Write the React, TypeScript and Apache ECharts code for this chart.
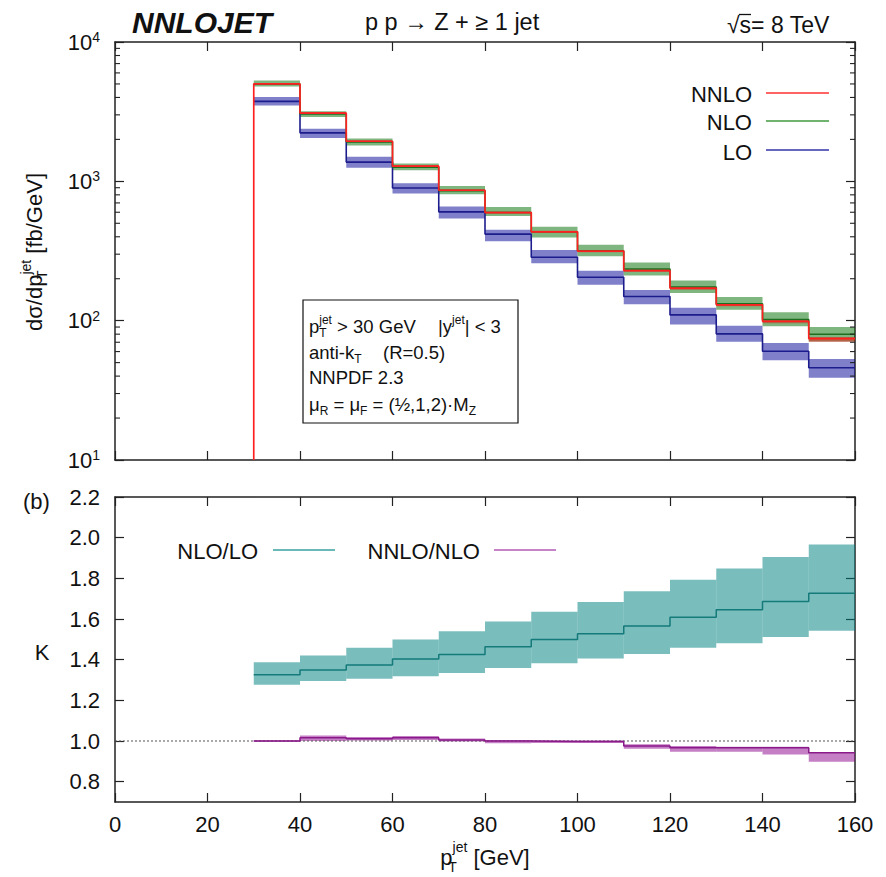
import React, { useEffect, useRef } from 'react';
import * as echarts from 'echarts';

// ---------- data ----------
const binEdges = [30, 40, 50, 60, 70, 80, 90, 100, 110, 120, 130, 140, 150, 160];

const nnlo = [5000, 3090, 1940, 1285, 863, 597, 434, 316, 229, 171, 130, 99, 74.3];
const nnloLo = [4920, 3040, 1905, 1262, 848, 587, 427, 310, 224, 167, 127, 96, 70.5];
const nnloHi = [5080, 3140, 1975, 1308, 878, 607, 441, 322, 234, 175, 133, 101, 76.5];

const nlo = [4990, 3040, 1920, 1265, 858, 597, 435, 317, 235, 174, 132, 102, 79.8];
const nloLo = [4800, 2900, 1810, 1200, 807, 565, 396, 290, 211, 158, 120, 91, 71];
const nloHi = [5300, 3180, 2030, 1345, 925, 655, 472, 351, 262, 194, 148, 115, 90];

const lo = [3750, 2228, 1374, 896, 604, 418, 285, 205, 149, 110, 80.4, 60.4, 45.9];
const loLo = [3508, 2050, 1250, 817, 541, 371, 258, 181, 131, 94, 70.5, 52, 39];
const loHi = [4027, 2380, 1500, 968, 659, 449, 321, 228, 166, 124, 92, 69, 53];

const kNloLo = [1.326, 1.349, 1.374, 1.403, 1.426, 1.463, 1.499, 1.527, 1.566, 1.609, 1.645, 1.686, 1.727];
const kNloLoLow = [1.277, 1.295, 1.306, 1.318, 1.334, 1.359, 1.382, 1.406, 1.428, 1.458, 1.481, 1.512, 1.542];
const kNloLoHigh = [1.387, 1.421, 1.458, 1.499, 1.54, 1.588, 1.636, 1.683, 1.736, 1.793, 1.848, 1.905, 1.966];

const kNnloNlo = [1.0, 1.016, 1.011, 1.016, 1.005, 1.0, 0.997, 0.997, 0.975, 0.967, 0.967, 0.967, 0.942];
const kNnloNloLow = [0.996, 1.0, 1.003, 1.005, 0.998, 0.989, 0.99, 0.99, 0.962, 0.947, 0.947, 0.934, 0.898];
const kNnloNloHigh = [1.004, 1.027, 1.02, 1.025, 1.012, 1.005, 1.003, 1.003, 0.984, 0.975, 0.972, 0.972, 0.946];

const xTicks = [0, 20, 40, 60, 80, 100, 120, 140, 160];
const kTicks = [0.8, 1.0, 1.2, 1.4, 1.6, 1.8, 2.0, 2.2];
const minorMultipliers = [2, 3, 4, 5, 6, 7, 8, 9];
const decades = [10, 100, 1000];
const kReference = 1.0;

// ---------- helpers ----------
const FONT = '"Liberation Sans", Arial, Helvetica, sans-serif';
const INK = '#111';

function steps(vals: number[], start?: number) {
  const pts: number[][] = [];
  if (start != null) pts.push([binEdges[0], start]);
  vals.forEach((v, i) => {
    pts.push([binEdges[i], v]);
    pts.push([binEdges[i + 1], v]);
  });
  return pts;
}

function bandData(low: number[], high: number[]) {
  return low.map((l, i) => [binEdges[i], binEdges[i + 1], l, high[i]]);
}

function bandSeries(name: string, low: number[], high: number[], color: string, xi: number, yi: number) {
  return {
    name,
    type: 'custom',
    xAxisIndex: xi,
    yAxisIndex: yi,
    data: bandData(low, high),
    encode: { x: [0, 1], y: [2, 3] },
    renderItem: (params: any, api: any) => {
      const p0 = api.coord([api.value(0), api.value(3)]);
      const p1 = api.coord([api.value(1), api.value(2)]);
      return {
        type: 'rect',
        shape: { x: p0[0], y: p0[1], width: p1[0] - p0[0], height: p1[1] - p0[1] },
        style: { fill: color },
      };
    },
    z: 2,
  };
}

function stepSeries(name: string, data: number[][], color: string, width: number, xi: number, yi: number, z = 3) {
  return {
    name,
    type: 'line',
    xAxisIndex: xi,
    yAxisIndex: yi,
    data,
    showSymbol: false,
    symbol: 'none',
    lineStyle: { color, width },
    z,
  };
}

const axisLine = { show: true, onZero: false, lineStyle: { color: '#222', width: 1.5 } };
const tick = { show: true, inside: true, length: 9, lineStyle: { color: '#222', width: 1.2 } };

const rich22 = {
  sub: { fontSize: 14, lineHeight: 14, verticalAlign: 'bottom', fontFamily: FONT, fill: INK, width: 0 },
  sup: { fontSize: 14, lineHeight: 14, verticalAlign: 'top', fontFamily: FONT, fill: INK },
  subn: { fontSize: 14, lineHeight: 14, verticalAlign: 'bottom', fontFamily: FONT, fill: INK },
};
const rich18 = {
  sub: { fontSize: 12, lineHeight: 12, verticalAlign: 'bottom', fontFamily: FONT, fill: INK, width: 0 },
  sup: { fontSize: 12, lineHeight: 12, verticalAlign: 'top', fontFamily: FONT, fill: INK },
  subn: { fontSize: 12, lineHeight: 12, verticalAlign: 'bottom', fontFamily: FONT, fill: INK },
};

function txt(x: number, y: number, text: string, extra: any = {}, rot = 0) {
  return {
    type: 'text',
    x,
    y,
    rotation: rot,
    z: 100,
    style: {
      text,
      fill: INK,
      fontSize: 22,
      fontFamily: FONT,
      align: 'left',
      verticalAlign: 'middle',
      lineHeight: 30,
      rich: rich22,
      ...extra,
    },
  };
}

function small(x: number, y: number, text: string) {
  return txt(x, y, text, { fontSize: 18.5, lineHeight: 25, rich: rich18 });
}

function legendLine(x1: number, x2: number, y: number, color: string, w = 1.6) {
  return {
    type: 'line',
    z: 100,
    shape: { x1, y1: y, x2, y2: y },
    style: { stroke: color, lineWidth: w },
  };
}

function buildOption() {
  const minorData: number[][] = [];
  decades.forEach((d) => minorMultipliers.forEach((m) => minorData.push([0, m * d])));

  const minorTicks = {
    type: 'custom',
    xAxisIndex: 0,
    yAxisIndex: 0,
    data: minorData,
    encode: { x: 0, y: 1 },
    silent: true,
    z: 5,
    renderItem: (params: any, api: any) => {
      const y = api.coord([0, api.value(1)])[1];
      const cs = params.coordSys;
      return {
        type: 'group',
        children: [
          { type: 'line', shape: { x1: cs.x, y1: y, x2: cs.x + 5, y2: y }, style: { stroke: '#222', lineWidth: 1.1 } },
          {
            type: 'line',
            shape: { x1: cs.x + cs.width, y1: y, x2: cs.x + cs.width - 5, y2: y },
            style: { stroke: '#222', lineWidth: 1.1 },
          },
        ],
      };
    },
  };

  const xBase = (grid: number, pos: 'top' | 'bottom', labels: boolean) => ({
    type: 'value',
    gridIndex: grid,
    position: pos,
    min: 0,
    max: 160,
    interval: 20,
    axisLine,
    axisTick: tick,
    splitLine: { show: false },
    axisLabel: labels
      ? { show: true, fontSize: 22, color: INK, fontFamily: FONT, margin: 11 }
      : { show: false },
  });

  return {
    animation: false,
    backgroundColor: '#fff',
    grid: [
      { left: 115, top: 42, width: 740, height: 418 },
      { left: 115, top: 497, width: 740, height: 305 },
    ],
    xAxis: [xBase(0, 'bottom', false), xBase(0, 'top', false), xBase(1, 'bottom', true), xBase(1, 'top', false)],
    yAxis: [
      {
        type: 'log',
        logBase: 10,
        gridIndex: 0,
        position: 'left',
        min: 10,
        max: 10000,
        axisLine,
        axisTick: tick,
        splitLine: { show: false },
        axisLabel: {
          show: true,
          margin: 15,
          color: INK,
          fontFamily: FONT,
          fontSize: 22,
          formatter: (v: number) => `{b|10}{s|${Math.round(Math.log10(v))}}`,
          rich: {
            b: { fontSize: 22, lineHeight: 24, fontFamily: FONT, color: INK },
            s: { fontSize: 14, lineHeight: 14, verticalAlign: 'top', fontFamily: FONT, color: INK },
          },
        },
      },
      {
        type: 'log',
        logBase: 10,
        gridIndex: 0,
        position: 'right',
        min: 10,
        max: 10000,
        axisLine,
        axisTick: tick,
        splitLine: { show: false },
        axisLabel: { show: false },
      },
      {
        type: 'value',
        gridIndex: 1,
        position: 'left',
        min: 0.7,
        max: 2.2,
        axisLine,
        axisTick: { ...tick, customValues: kTicks },
        splitLine: { show: false },
        axisLabel: {
          show: true,
          customValues: kTicks,
          margin: 15,
          fontSize: 22,
          color: INK,
          fontFamily: FONT,
          formatter: (v: number) => v.toFixed(1),
        },
      },
      {
        type: 'value',
        gridIndex: 1,
        position: 'right',
        min: 0.7,
        max: 2.2,
        axisLine,
        axisTick: { ...tick, customValues: kTicks },
        splitLine: { show: false },
        axisLabel: { show: false },
      },
    ],
    series: [
      bandSeries('LO band', loLo, loHi, 'rgba(0,0,150,0.5)', 0, 0),
      bandSeries('NLO band', nloLo, nloHi, 'rgba(0,110,0,0.5)', 0, 0),
      bandSeries('NNLO band', nnloLo, nnloHi, 'rgba(235,0,0,0.45)', 0, 0),
      stepSeries('LO', steps(lo), '#1c1c8c', 1.6, 0, 0),
      stepSeries('NLO', steps(nlo), '#1f6e1f', 1.6, 0, 0),
      stepSeries('NNLO', steps(nnlo, 10), '#ff2020', 1.7, 0, 0, 4),
      minorTicks,
      bandSeries('NLO/LO band', kNloLoLow, kNloLoHigh, 'rgba(0,128,128,0.52)', 2, 2),
      bandSeries('NNLO/NLO band', kNnloNloLow, kNnloNloHigh, 'rgba(140,0,140,0.5)', 2, 2),
      {
        name: 'ref',
        type: 'line',
        xAxisIndex: 2,
        yAxisIndex: 2,
        data: [
          [xTicks[0], kReference],
          [xTicks[xTicks.length - 1], kReference],
        ],
        showSymbol: false,
        symbol: 'none',
        lineStyle: { color: '#555', width: 1, type: [2, 2] },
        z: 3,
      },
      stepSeries('NLO/LO', steps(kNloLo), '#157a7a', 1.5, 2, 2),
      stepSeries('NNLO/NLO', steps(kNnloNlo), '#8a1a8a', 1.5, 2, 2),
    ],
    graphic: [
      // titles
      txt(132, 22, 'NNLOJET', { fontSize: 30, fontWeight: 'bold', fontStyle: 'italic' }),
      txt(365, 22, 'p p → Z + ≥ 1 jet', { fontSize: 23.5 }),
      txt(727, 25, '√s= 8 TeV', { fontSize: 23 }),
      legendLine(739, 751, 14.5, INK, 1.3),
      // top legend
      txt(752, 94, 'NNLO', { align: 'right' }),
      txt(752, 122, 'NLO', { align: 'right' }),
      txt(752, 152, 'LO', { align: 'right' }),
      legendLine(766, 829, 93, '#ff3030'),
      legendLine(766, 829, 121, '#3f9a3f'),
      legendLine(766, 829, 150, '#3333a8'),
      // bottom legend
      txt(258, 551, 'NLO/LO', { align: 'right' }),
      legendLine(273, 335, 550, '#3aa0a0'),
      txt(480, 551, 'NNLO/NLO', { align: 'right' }),
      legendLine(494, 556, 550, '#b45ab4'),
      // annotation box
      {
        type: 'rect',
        z: 100,
        shape: { x: 303, y: 300, width: 215, height: 123 },
        style: { fill: 'none', stroke: INK, lineWidth: 1.2 },
      },
      small(309, 326, 'p{sub|T}{sup|jet} > 30 GeV'),
      small(438, 326, '|y{sup|jet}| < 3'),
      small(309, 352, 'anti-k{subn|T}'),
      small(383, 352, '(R=0.5)'),
      small(309, 377, 'NNPDF 2.3'),
      small(309, 404, 'μ{subn|R} = μ{subn|F} = (½,1,2)·M{subn|Z}'),
      // panel label and axis titles
      txt(23, 501, '(b)'),
      txt(34, 252, 'dσ/dp{sub|T}{sup|jet} [fb/GeV]', { align: 'center' }, Math.PI / 2),
      txt(42, 652, 'K', { align: 'center' }),
      txt(485, 857, 'p{sub|T}{sup|jet} [GeV]', { align: 'center', lineHeight: 34 }),
    ],
  };
}

export default function App() {
  const ref = useRef<HTMLDivElement>(null);
  useEffect(() => {
    document.body.style.margin = '0';
    const chart = echarts.init(ref.current!, null, { renderer: 'svg' });
    chart.setOption(buildOption() as any);
    return () => chart.dispose();
  }, []);
  return <div ref={ref} style={{ width: 886, height: 877, background: '#fff' }} />;
}
